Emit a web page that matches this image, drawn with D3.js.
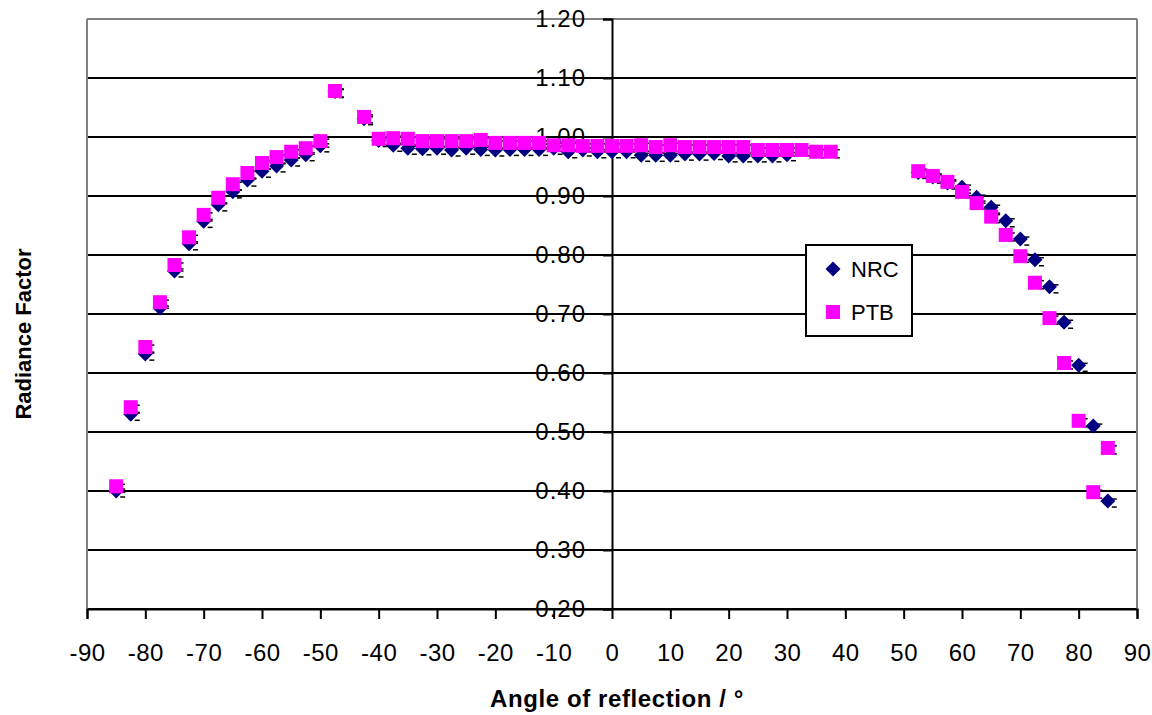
<!DOCTYPE html>
<html>
<head>
<meta charset="utf-8">
<script src="https://cdn.jsdelivr.net/npm/d3@7"></script>
<style>
  body { margin: 0; background: #fff; }
  svg { font-family: "Liberation Sans", Arial, sans-serif; }
</style>
</head>
<body>
<script>
// angles (deg) and radiance factors
var nrcAngle = [-85, -82.5, -80, -77.5, -75, -72.5, -70, -67.5, -65, -62.5, -60, -57.5, -55, -52.5, -50, -47.5, -42.5,
    -40, -37.5, -35, -32.5, -30, -27.5, -25, -22.5, -20, -17.5, -15, -12.5, -10, -7.5, -5, -2.5, 0,
    2.5, 5, 7.5, 10, 12.5, 15, 17.5, 20, 22.5, 25, 27.5, 30,
    52.5, 55, 57.5, 60, 62.5, 65, 67.5, 70, 72.5, 75, 77.5, 80, 82.5, 85];
var nrcValue = [0.400, 0.530, 0.632, 0.710, 0.773, 0.819, 0.857, 0.885, 0.907, 0.927, 0.942, 0.951, 0.961, 0.970, 0.985, 1.077, 1.031,
    0.994, 0.986, 0.981, 0.980, 0.981, 0.978, 0.981, 0.979, 0.978, 0.979, 0.979, 0.979, 0.981, 0.975, 0.978, 0.975, 0.975,
    0.975, 0.969, 0.969, 0.969, 0.971, 0.971, 0.972, 0.968, 0.968, 0.968, 0.968, 0.970,
    0.940, 0.932, 0.922, 0.915, 0.898, 0.881, 0.858, 0.827, 0.792, 0.746, 0.686, 0.613, 0.510, 0.383];

var ptbAngle = [-85, -82.5, -80, -77.5, -75, -72.5, -70, -67.5, -65, -62.5, -60, -57.5, -55, -52.5, -50, -47.5, -42.5,
    -40, -37.5, -35, -32.5, -30, -27.5, -25, -22.5, -20, -17.5, -15, -12.5, -10, -7.5, -5, -2.5, 0,
    2.5, 5, 7.5, 10, 12.5, 15, 17.5, 20, 22.5, 25, 27.5, 30, 32.5, 35, 37.5,
    52.5, 55, 57.5, 60, 62.5, 65, 67.5, 70, 72.5, 75, 77.5, 80, 82.5, 85];
var ptbValue = [0.408, 0.542, 0.644, 0.720, 0.783, 0.830, 0.868, 0.897, 0.920, 0.939, 0.956, 0.966, 0.975, 0.981, 0.993, 1.078, 1.034,
    0.997, 0.998, 0.997, 0.993, 0.993, 0.993, 0.993, 0.995, 0.990, 0.990, 0.990, 0.990, 0.986, 0.986, 0.985, 0.985, 0.985,
    0.985, 0.986, 0.983, 0.986, 0.983, 0.983, 0.983, 0.983, 0.983, 0.978, 0.978, 0.978, 0.978, 0.975, 0.975,
    0.942, 0.934, 0.924, 0.907, 0.888, 0.865, 0.834, 0.798, 0.753, 0.693, 0.617, 0.519, 0.398, 0.473];

var xTicks = d3.range(-90, 91, 10);
var yTicks = [0.20, 0.30, 0.40, 0.50, 0.60, 0.70, 0.80, 0.90, 1.00, 1.10, 1.20];

var nrc = nrcAngle.map(function (a, i) { return { x: a, y: nrcValue[i] }; });
var ptb = ptbAngle.map(function (a, i) { return { x: a, y: ptbValue[i] }; });

var width = 1152, height = 715;
var margin = { top: 19, right: 15, bottom: 106, left: 87 };
var plotW = width - margin.left - margin.right,
    plotH = height - margin.top - margin.bottom;

var x = d3.scaleLinear().domain([-90, 90]).range([0, plotW]);
var y = d3.scaleLinear().domain([0.20, 1.20]).range([plotH, 0]);

var svg = d3.select("body").append("svg")
    .attr("width", width)
    .attr("height", height);

var g = svg.append("g")
    .attr("transform", "translate(" + margin.left + "," + margin.top + ")");

// horizontal grid lines
g.append("g")
    .selectAll("line")
    .data(yTicks)
    .enter().append("line")
    .attr("x1", 0).attr("x2", plotW)
    .attr("y1", function (d) { return y(d); })
    .attr("y2", function (d) { return y(d); })
    .attr("stroke", function (d) { return d === 1.20 ? "#808080" : "#000"; })
    .attr("stroke-width", 2);

// gray plot border on left and right
g.append("line").attr("x1", 0).attr("x2", 0).attr("y1", 0).attr("y2", plotH)
    .attr("stroke", "#808080").attr("stroke-width", 2);
g.append("line").attr("x1", plotW).attr("x2", plotW).attr("y1", 0).attr("y2", plotH)
    .attr("stroke", "#808080").attr("stroke-width", 2);

// x axis at the bottom (plain hyphen for negatives, like the original)
var xAxis = g.append("g")
    .attr("transform", "translate(0," + plotH + ")")
    .call(d3.axisBottom(x).tickValues(xTicks).tickSize(10).tickPadding(25)
        .tickFormat(function (d) { return String(d); }));
xAxis.select(".domain").attr("stroke", "#000").attr("stroke-width", 2);
xAxis.selectAll(".tick line").attr("stroke", "#000").attr("stroke-width", 2);
xAxis.selectAll("text").attr("font-size", 24).attr("fill", "#000")
    .attr("letter-spacing", 0.5)
    .style("font-family", "Liberation Sans, Arial, sans-serif");

// y axis crossing at x = 0
var yAxis = g.append("g")
    .attr("transform", "translate(" + x(0) + ",0)")
    .call(d3.axisLeft(y).tickValues(yTicks).tickSize(9).tickPadding(17).tickFormat(d3.format(".2f")));
yAxis.select(".domain").attr("stroke", "#000").attr("stroke-width", 2);
yAxis.selectAll(".tick line").attr("stroke", "#000").attr("stroke-width", 2);
yAxis.selectAll("text").attr("font-size", 24).attr("fill", "#000")
    .attr("letter-spacing", 1)
    .style("font-family", "Liberation Sans, Arial, sans-serif");

// little black marks to the right of each marker
function addMarks(data) {
    var m = g.append("g");
    [-2, 6].forEach(function (dy) {
        m.selectAll(null)
            .data(data)
            .enter().append("line")
            .attr("x1", function (d) { return x(d.x) + 4; })
            .attr("x2", function (d) { return x(d.x) + 9; })
            .attr("y1", function (d) { return y(d.y) + dy; })
            .attr("y2", function (d) { return y(d.y) + dy; })
            .attr("stroke", "#000")
            .attr("stroke-width", 1.5);
    });
}

var diamond = "M0,-7.5L7.5,0L0,7.5L-7.5,0Z";

addMarks(nrc);
g.append("g")
    .selectAll("path")
    .data(nrc)
    .enter().append("path")
    .attr("d", diamond)
    .attr("transform", function (d) { return "translate(" + x(d.x) + "," + y(d.y) + ")"; })
    .attr("fill", "#000080");

addMarks(ptb);
g.append("g")
    .selectAll("rect")
    .data(ptb)
    .enter().append("rect")
    .attr("x", function (d) { return x(d.x) - 7; })
    .attr("y", function (d) { return y(d.y) - 7; })
    .attr("width", 14)
    .attr("height", 14)
    .attr("fill", "#ff00ff");

// legend
var legend = svg.append("g").attr("transform", "translate(806,245)");
legend.append("rect")
    .attr("width", 106).attr("height", 91)
    .attr("fill", "#fff").attr("stroke", "#000").attr("stroke-width", 2);
legend.append("path").attr("d", diamond)
    .attr("transform", "translate(27,24)").attr("fill", "#000080");
legend.append("text").attr("x", 45).attr("y", 32).attr("font-size", 22).text("NRC");
legend.append("rect").attr("x", 20).attr("y", 60).attr("width", 14).attr("height", 14)
    .attr("fill", "#ff00ff");
legend.append("text").attr("x", 45).attr("y", 75).attr("font-size", 22).text("PTB");

// axis titles
svg.append("text")
    .attr("x", margin.left + x(0) + 5)
    .attr("y", 707)
    .attr("text-anchor", "middle")
    .attr("font-size", 24)
    .attr("letter-spacing", 0.6)
    .attr("font-weight", "bold")
    .text("Angle of reflection / °");

svg.append("text")
    .attr("transform", "translate(31," + (margin.top + plotH / 2 + 20) + ") rotate(-90)")
    .attr("text-anchor", "middle")
    .attr("font-size", 22)
    .attr("font-weight", "bold")
    .text("Radiance Factor");
</script>
</body>
</html>
